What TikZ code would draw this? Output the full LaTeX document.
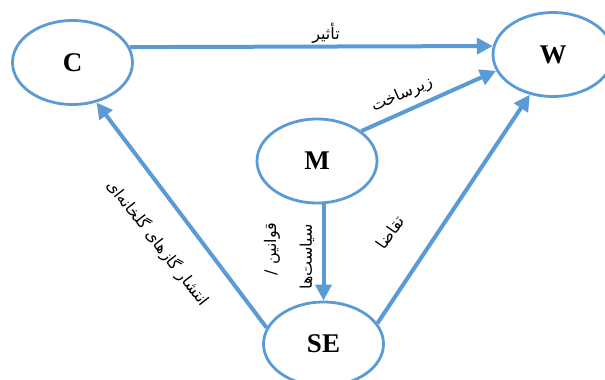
\documentclass[tikz,border=0pt]{standalone}
\usepackage{fontspec}
\setmainfont{Liberation Serif}
\newfontfamily\arabicfont[Script=Arabic]{DejaVu Sans}
\TeXXeTstate=1
\usetikzlibrary{shapes.geometric,arrows.meta}
\definecolor{lineblue}{RGB}{91,155,213}
\begin{document}
\begin{tikzpicture}[x=1pt,y=-1pt,
  ell/.style={ellipse,draw=lineblue,line width=2.8pt,fill=white,minimum width=120pt,minimum height=84pt,inner sep=0pt,font=\fontsize{27}{27}\selectfont\bfseries},
  conn/.style={draw=lineblue,line width=4pt,-{Triangle[length=16pt,width=16pt]}},
  lbl/.style={font=\arabicfont\fontsize{16}{18}\selectfont,inner sep=0pt}]
\useasboundingbox (0,0) rectangle (605,380);
\node[ell] (C) at (72.5,62.5) {C};
\node[ell] (W) at (553,54.5) {W};
\node[ell] (M) at (317,161) {M};
\node[ell] (SE) at (323.5,344) {SE};
\draw[conn] (C.15) -- (W.172);
\draw[conn] (M.34) -- (W.196);
\draw[conn] (SE.21) -- (W.240);
\draw[conn] (SE.164) -- (C.301);
\draw[conn] (SE.north |- M.south) -- (SE.north);
\node[lbl] (l1) at (326,33) {\beginR تأثیر\endR};
\node[lbl,rotate=24] (l2) at (402,95) {\beginR زیرساخت\endR};
\node[lbl,rotate=55] (l3) at (390,232) {\beginR تقاضا\endR};
\node[lbl,rotate=90] (l4) at (272,249) {\beginR قوانین /\endR};
\node[lbl,rotate=90] (l5) at (307,257) {\beginR سیاست‌ها\endR};
\node[lbl,rotate=-52] (l6) at (158,243) {\beginR انتشار گازهای گلخانه‌ای\endR};
\end{tikzpicture}
\end{document}
